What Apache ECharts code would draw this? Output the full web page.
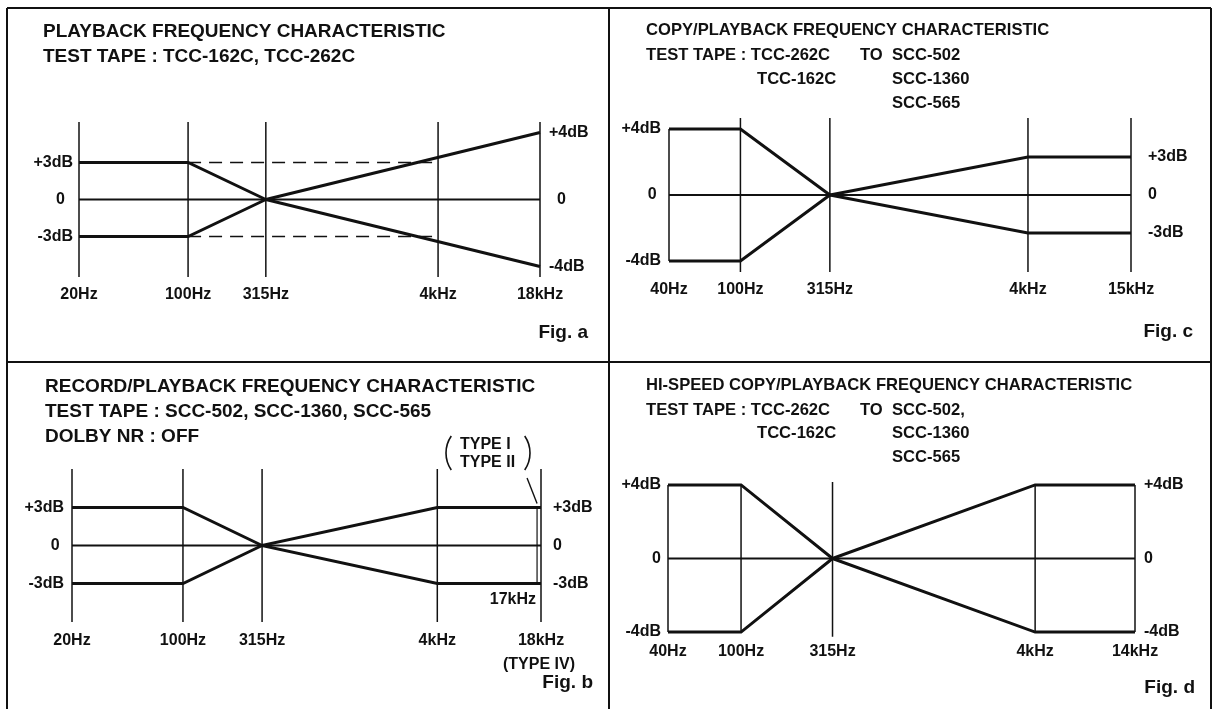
<!DOCTYPE html>
<html><head><meta charset="utf-8">
<script src="https://cdn.jsdelivr.net/npm/echarts@6/dist/echarts.min.js"></script>
<style>html,body{margin:0;padding:0;background:#fff}#c{width:1215px;height:709px}</style>
</head><body><div id="c"></div>
<script>
// ---------------- data ----------------
// Fig. a  playback frequency characteristic
const freqA = [20, 100, 315, 4000, 18000];
const xLabelsA = ['20Hz', '100Hz', '315Hz', '4kHz', '18kHz'];
const upperA = [3, 3, 0, null, 4];
const lowerA = [-3, -3, 0, null, -4];
const guideUpperA = [null, 3, null, 3, null];
const guideLowerA = [null, -3, null, -3, null];
const yTicksLeftA = [-3, 0, 3];
const yTicksRightA = [-4, 0, 4];
// Fig. b  record/playback frequency characteristic
const freqB = [20, 100, 315, 4000, 18000];
const xLabelsB = ['20Hz', '100Hz', '315Hz', '4kHz', '18kHz'];
const upperB = [3, 3, 0, 3, 3];
const lowerB = [-3, -3, 0, -3, -3];
const typeI_II_EndB = 17000;
const yTicksB = [-3, 0, 3];
// Fig. c  copy/playback frequency characteristic
const freqC = [40, 100, 315, 4000, 15000];
const xLabelsC = ['40Hz', '100Hz', '315Hz', '4kHz', '15kHz'];
const upperC = [4, 4, 0, 3, 3];
const lowerC = [-4, -4, 0, -3, -3];
const yTicksLeftC = [-4, 0, 4];
const yTicksRightC = [-3, 0, 3];
// Fig. d  hi-speed copy/playback frequency characteristic
const freqD = [40, 100, 315, 4000, 14000];
const xLabelsD = ['40Hz', '100Hz', '315Hz', '4kHz', '14kHz'];
const upperD = [4, 4, 0, 4, 4];
const lowerD = [-4, -4, 0, -4, -4];
const yTicksD = [-4, 0, 4];
const pivotIndex = 2; // 315 Hz: left and right dB scales meet here

// ---------------- helpers ----------------
const FONT = '"Liberation Sans", Arial, Helvetica, sans-serif';
const INK = '#111';
const L = Math.log10;
function pts(freqs, vals, from, to) {
  const out = [];
  for (let i = from; i <= to; i++) if (vals[i] != null) out.push([L(freqs[i]), vals[i]]);
  return out;
}
function xFmt(freqs, labels) {
  return v => {
    let best = 0, bd = 1e9;
    freqs.forEach((f, i) => { const d = Math.abs(L(f) - v); if (d < bd) { bd = d; best = i; } });
    return labels[best];
  };
}
function dbFmt(zeroText) {
  return v => v > 0 ? '+' + v + 'dB' : (v < 0 ? v + 'dB' : zeroText);
}
const labelStyle = { fontSize: 16, fontWeight: 'bold', color: INK, fontFamily: FONT };
function xAxis(gi, freqs, labels, margin) {
  return {
    type: 'value', gridIndex: gi, min: L(freqs[0]), max: L(freqs[freqs.length - 1]),
    axisLine: { show: false }, axisTick: { show: false }, splitLine: { show: false },
    axisLabel: Object.assign({ customValues: freqs.map(L), formatter: xFmt(freqs, labels), margin }, labelStyle)
  };
}
function yAxis(gi, pos, range, ticks, zeroText, margin) {
  return {
    type: 'value', gridIndex: gi, position: pos, min: -range, max: range,
    axisLine: { show: false }, axisTick: { show: false }, splitLine: { show: false },
    axisLabel: Object.assign({ customValues: ticks, formatter: dbFmt(zeroText), margin }, labelStyle)
  };
}
function curve(xi, yi, data, width, dash, z) {
  return {
    type: 'line', xAxisIndex: xi, yAxisIndex: yi, data, symbol: 'none', silent: true, clip: false,
    lineStyle: { color: INK, width, type: dash || 'solid', cap: 'butt', join: 'miter' }, z: z || 4
  };
}
// zero reference line and vertical frequency lines (spanning lo..hi on the given axis)
function frame(xi, yi, freqs, lo, hi) {
  const out = [curve(xi, yi, [[L(freqs[0]), 0], [L(freqs[freqs.length - 1]), 0]], 2, null, 2)];
  freqs.forEach((f, i) => out.push(curve(xi, yi, [[L(f), lo[i]], [L(f), hi[i]]], 1.5, null, 2)));
  return out;
}
function fill(n, v) { return new Array(n).fill(v); }

// axis half-ranges (dB) of each scale
const RA_L = 6.28, RA_R = 4.63, RB = 6.04, RC_L = 4.67, RC_R = 6.08, RD = 4.16;

const chart = echarts.init(document.getElementById('c'), null, { renderer: 'canvas' });

const series = [];
// Fig. a
series.push(...frame(0, 0, freqA, fill(5, -RA_L), fill(5, RA_L)));
series.push(
  curve(0, 0, pts(freqA, upperA, 0, pivotIndex), 3),
  curve(0, 1, pts(freqA, upperA, pivotIndex, 4), 3),
  curve(0, 0, pts(freqA, lowerA, 0, pivotIndex), 3),
  curve(0, 1, pts(freqA, lowerA, pivotIndex, 4), 3),
  curve(0, 0, pts(freqA, guideUpperA, 0, 4), 1.6, [13, 8]),
  curve(0, 0, pts(freqA, guideLowerA, 0, 4), 1.6, [13, 8])
);
// Fig. b
series.push(...frame(1, 2, freqB, fill(5, -RB), fill(5, RB)));
series.push(
  curve(1, 2, pts(freqB, upperB, 0, 4), 3),
  curve(1, 2, pts(freqB, lowerB, 0, 4), 3)
);
const i17 = series.length;
series.push(curve(1, 2, [[L(typeI_II_EndB), upperB[4]], [L(typeI_II_EndB), lowerB[4]]], 1.2));
// Fig. c  (the 40 Hz line spans only the +-4 dB band)
const loC = fill(5, -RC_L), hiC = fill(5, RC_L);
loC[0] = lowerC[0]; hiC[0] = upperC[0];
series.push(...frame(2, 4, freqC, loC, hiC));
series.push(
  curve(2, 4, pts(freqC, upperC, 0, pivotIndex), 3),
  curve(2, 5, pts(freqC, upperC, pivotIndex, 4), 3),
  curve(2, 4, pts(freqC, lowerC, 0, pivotIndex), 3),
  curve(2, 5, pts(freqC, lowerC, pivotIndex, 4), 3)
);
// Fig. d  (only the 315 Hz line extends beyond the band)
const loD = lowerD.slice(), hiD = upperD.slice();
loD[pivotIndex] = -RD - 0.1; hiD[pivotIndex] = RD;
series.push(...frame(3, 6, freqD, loD, hiD));
series.push(
  curve(3, 6, pts(freqD, upperD, 0, 4), 3),
  curve(3, 6, pts(freqD, lowerD, 0, 4), 3)
);

const option = {
  animation: false,
  backgroundColor: '#fff',
  grid: [
    { left: 79, top: 122, width: 461, height: 155, outerBoundsMode: 'none', containLabel: false },
    { left: 72, top: 469, width: 469, height: 153, outerBoundsMode: 'none', containLabel: false },
    { left: 669, top: 118, width: 462, height: 154, outerBoundsMode: 'none', containLabel: false },
    { left: 668, top: 482, width: 467, height: 153, outerBoundsMode: 'none', containLabel: false }
  ],
  xAxis: [
    xAxis(0, freqA, xLabelsA, 10),
    xAxis(1, freqB, xLabelsB, 11),
    xAxis(2, freqC, xLabelsC, 10),
    xAxis(3, freqD, xLabelsD, 9)
  ],
  yAxis: [
    yAxis(0, 'left', RA_L, yTicksLeftA, '0\u2002', 6),
    yAxis(0, 'right', RA_R, yTicksRightA, '\u20020', 9),
    yAxis(1, 'left', RB, yTicksB, '0 ', 8),
    yAxis(1, 'right', RB, yTicksB, '0', 12),
    yAxis(2, 'left', RC_L, yTicksLeftC, '0 ', 8),
    yAxis(2, 'right', RC_R, yTicksRightC, '0', 17),
    yAxis(3, 'left', RD, yTicksD, '0', 7),
    yAxis(3, 'right', RD, yTicksD, '0', 9)
  ],
  series
};
chart.setOption(option);

// ---------------- annotations ----------------
function txt(x, y, s, size, align) {
  return {
    type: 'text', x, y, silent: true, z: 10,
    style: {
      text: s, fontSize: size, fontWeight: 'bold', fontFamily: FONT, fill: INK,
      textAlign: align || 'left', textVerticalAlign: 'middle',
      align: align || 'left', verticalAlign: 'middle'
    }
  };
}
function seg(x1, y1, x2, y2, w) {
  return { type: 'line', silent: true, z: 10, shape: { x1, y1, x2, y2 }, style: { stroke: INK, lineWidth: w || 2 } };
}
function paren(cx, cy, r, left) {
  const a = Math.asin(17 / r);
  return {
    type: 'arc', silent: true, z: 10,
    shape: left ? { cx: cx + r, cy, r, startAngle: Math.PI - a, endAngle: Math.PI + a, clockwise: true }
                : { cx: cx - r, cy, r, startAngle: -a, endAngle: a, clockwise: true },
    style: { stroke: INK, lineWidth: 1.6, fill: null }
  };
}

// 17 kHz marker positions derived from the chart's own scale
const p17top = chart.convertToPixel({ seriesIndex: i17 }, [L(typeI_II_EndB), upperB[4]]);
const p18 = chart.convertToPixel({ seriesIndex: i17 }, [L(freqB[4]), lowerB[4]]);

const T1 = 19, T2 = 16.6;
const elements = [
  // frame
  seg(7, 8, 1211, 8), seg(7, 8, 7, 709), seg(609, 8, 609, 709), seg(1211, 8, 1211, 709), seg(7, 362, 1211, 362),
  // Fig. a
  txt(43, 32, 'PLAYBACK FREQUENCY CHARACTERISTIC', T1),
  txt(43, 57, 'TEST TAPE : TCC-162C, TCC-262C', T1),
  txt(588, 333, 'Fig. a', 19, 'right'),
  // Fig. b
  txt(45, 387, 'RECORD/PLAYBACK FREQUENCY CHARACTERISTIC', T1),
  txt(45, 412, 'TEST TAPE : SCC-502, SCC-1360, SCC-565', T1),
  txt(45, 437, 'DOLBY NR : OFF', T1),
  txt(460, 445, 'TYPE I', 16),
  txt(460, 463, 'TYPE II', 16),
  paren(446, 453, 30, true),
  paren(530, 453, 30, false),
  seg(p17top[0] - 10, 478, p17top[0], p17top[1] - 4, 1.4),
  txt(p18[0] - 5, 600, '17kHz', 16, 'right'),
  txt(539, 665, '(TYPE IV)', 16, 'center'),
  txt(593, 683, 'Fig. b', 19, 'right'),
  // Fig. c
  txt(646, 30, 'COPY/PLAYBACK FREQUENCY CHARACTERISTIC', T2),
  txt(646, 55, 'TEST TAPE : TCC-262C', T2),
  txt(860, 55, 'TO', T2),
  txt(892, 55, 'SCC-502', T2),
  txt(757, 79, 'TCC-162C', T2),
  txt(892, 79, 'SCC-1360', T2),
  txt(892, 103, 'SCC-565', T2),
  txt(1193, 332, 'Fig. c', 19, 'right'),
  // Fig. d
  txt(646, 385, 'HI-SPEED COPY/PLAYBACK FREQUENCY CHARACTERISTIC', T2),
  txt(646, 410, 'TEST TAPE : TCC-262C', T2),
  txt(860, 410, 'TO', T2),
  txt(892, 410, 'SCC-502,', T2),
  txt(757, 433, 'TCC-162C', T2),
  txt(892, 433, 'SCC-1360', T2),
  txt(892, 457, 'SCC-565', T2),
  txt(1195, 688, 'Fig. d', 19, 'right')
];
chart.setOption({ graphic: { elements } });
</script>
</body></html>
